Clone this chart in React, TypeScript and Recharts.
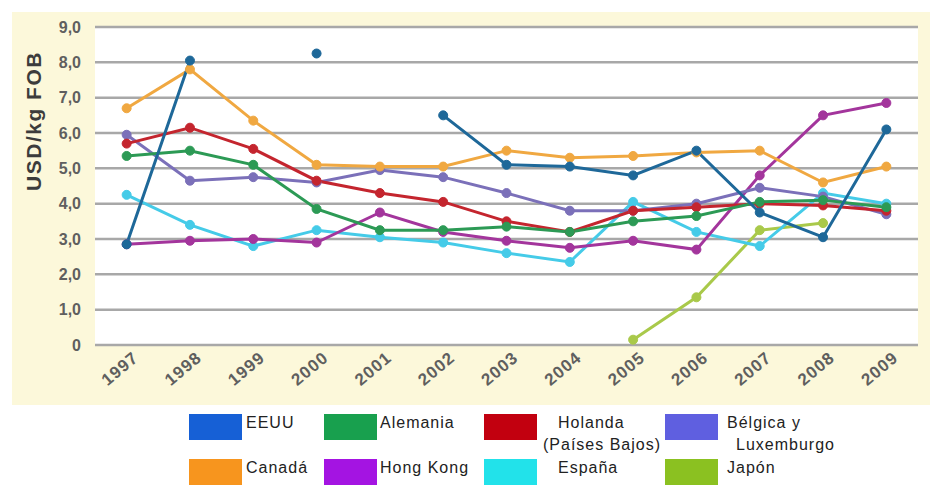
import { CartesianGrid, Line, LineChart, XAxis, YAxis } from "recharts";

const years = ["1997", "1998", "1999", "2000", "2001", "2002", "2003", "2004", "2005", "2006", "2007", "2008", "2009"];

const eeuu = [2.85, 8.05, null, 8.25, null, 6.5, 5.1, 5.05, 4.8, 5.5, 3.75, 3.05, 6.1];
const canada = [6.7, 7.8, 6.35, 5.1, 5.05, 5.05, 5.5, 5.3, 5.35, 5.45, 5.5, 4.6, 5.05];
const alemania = [5.35, 5.5, 5.1, 3.85, 3.25, 3.25, 3.35, 3.2, 3.5, 3.65, 4.05, 4.1, 3.9];
const hongKong = [2.85, 2.95, 3.0, 2.9, 3.75, 3.2, 2.95, 2.75, 2.95, 2.7, 4.8, 6.5, 6.85];
const holanda = [5.7, 6.15, 5.55, 4.65, 4.3, 4.05, 3.5, 3.2, 3.8, 3.9, 4.0, 3.95, 3.8];
const espana = [4.25, 3.4, 2.8, 3.25, 3.05, 2.9, 2.6, 2.35, 4.05, 3.2, 2.8, 4.3, 4.0];
const belgica = [5.95, 4.65, 4.75, 4.6, 4.95, 4.75, 4.3, 3.8, 3.8, 4.0, 4.45, 4.2, 3.7];
const japon = [null, null, null, null, null, null, null, null, 0.15, 1.35, 3.25, 3.45, null];

const yTicks = [0, 1, 2, 3, 4, 5, 6, 7, 8, 9];
const edgeTicks = [0, 1, 2, 3, 4, 5, 6, 7, 8, 9, 10, 11, 12, 13];

// draw order: first drawn is at the bottom
const series = [
  { key: "japon", color: "#a9c94a" },
  { key: "espana", color: "#45cbe8" },
  { key: "hongKong", color: "#a3359c" },
  { key: "belgica", color: "#7b70b9" },
  { key: "holanda", color: "#c4252e" },
  { key: "alemania", color: "#2c9a55" },
  { key: "canada", color: "#f0a841" },
  { key: "eeuu", color: "#1e6899" },
];

const legendNames = [["EEUU"], ["Alemania"], ["Holanda", "(Países Bajos)"], ["Bélgica y", "Luxemburgo"], ["Canadá"], ["Hong Kong"], ["España"], ["Japón"]];
const legendColors = ["#1660d6", "#18a04e", "#c2000f", "#5f5fe0", "#f7951e", "#a414e2", "#22e2ea", "#8bc121"];

const fmtY = (v: number) => (v === 0 ? "0" : v.toFixed(1).replace(".", ","));

function YearTick(props: any) {
  const { x, y, payload } = props;
  return (
    <g transform={`translate(${x + 9},${y + 2})`}>
      <text
        textAnchor="end"
        transform="rotate(-40)"
        dy="0.35em"
        fontSize={17}
        fontWeight="bold"
        letterSpacing={1}
        fill="#5f5f5f"
        fontFamily="Liberation Sans, Arial, sans-serif"
      >
        {payload.value}
      </text>
    </g>
  );
}

const boxLeft = [189, 324, 484, 665];
const textLeft = [[246], [380], [558, 543], [727, 736]];

export default function App() {
  const data = years.map((year, i) => ({
    year,
    eeuu: eeuu[i],
    canada: canada[i],
    alemania: alemania[i],
    hongKong: hongKong[i],
    holanda: holanda[i],
    espana: espana[i],
    belgica: belgica[i],
    japon: japon[i],
  }));

  return (
    <div style={{ position: "absolute", left: 0, top: 0, width: 931, height: 486, background: "#fff", overflow: "hidden", fontFamily: "Liberation Sans, Arial, sans-serif" }}>
      <div style={{ position: "absolute", left: 12, top: 12, width: 918, height: 393, background: "#fcf8da" }} />
      <div style={{ position: "absolute", left: 0, top: 0 }}>
        <LineChart width={931} height={400} data={data} margin={{ top: 27, right: 13, left: 0, bottom: 0 }}>
          <CartesianGrid vertical={false} stroke="#a8a8a8" strokeWidth={2.5} fill="#ffffff" fillOpacity={1} />
          <XAxis
            xAxisId="edges"
            type="number"
            domain={[0, 13]}
            ticks={edgeTicks}
            tick={false}
            tickSize={10}
            height={0}
            stroke="#9a9a9a"
            strokeWidth={2}
            allowDataOverflow
          />
          <XAxis dataKey="year" scale="band" height={55} axisLine={false} tickLine={false} interval={0} tick={<YearTick />} />
          <YAxis
            domain={[0, 9]}
            ticks={yTicks}
            width={95}
            axisLine={false}
            tickLine={false}
            tickSize={6}
            tickMargin={8}
            tickFormatter={fmtY}
            tick={{ fontSize: 16, fontWeight: "bold", fill: "#5f5f5f" }}
          />
          {series.map((s) => (
            <Line
              key={s.key}
              dataKey={s.key}
              type="linear"
              stroke={s.color}
              strokeWidth={3}
              dot={{ r: 4.5, fill: s.color, stroke: s.color, strokeWidth: 1 }}
              activeDot={false}
              connectNulls={false}
              isAnimationActive={false}
            />
          ))}
        </LineChart>
      </div>
      <div
        style={{
          position: "absolute",
          left: 34,
          top: 121,
          transform: "translate(-50%, -50%) rotate(-90deg)",
          whiteSpace: "nowrap",
          fontWeight: "bold",
          fontSize: 21,
          letterSpacing: 1.5,
          color: "#3c3c3c",
        }}
      >
        USD/kg FOB
      </div>
      {legendNames.map((lines, i) => {
        const col = i % 4;
        const row = Math.floor(i / 4);
        const top = row === 0 ? 414 : 459;
        return (
          <div key={lines[0]}>
            <div style={{ position: "absolute", left: boxLeft[col], top, width: 53, height: 26, background: legendColors[i] }} />
            {lines.map((t, j) => (
              <div
                key={t}
                style={{
                  position: "absolute",
                  left: textLeft[col][j] ?? textLeft[col][0],
                  top: top - 1 + j * 22,
                  fontSize: 16,
                  letterSpacing: 1,
                  color: "#222",
                  whiteSpace: "nowrap",
                  lineHeight: "20px",
                }}
              >
                {t}
              </div>
            ))}
          </div>
        );
      })}
    </div>
  );
}
